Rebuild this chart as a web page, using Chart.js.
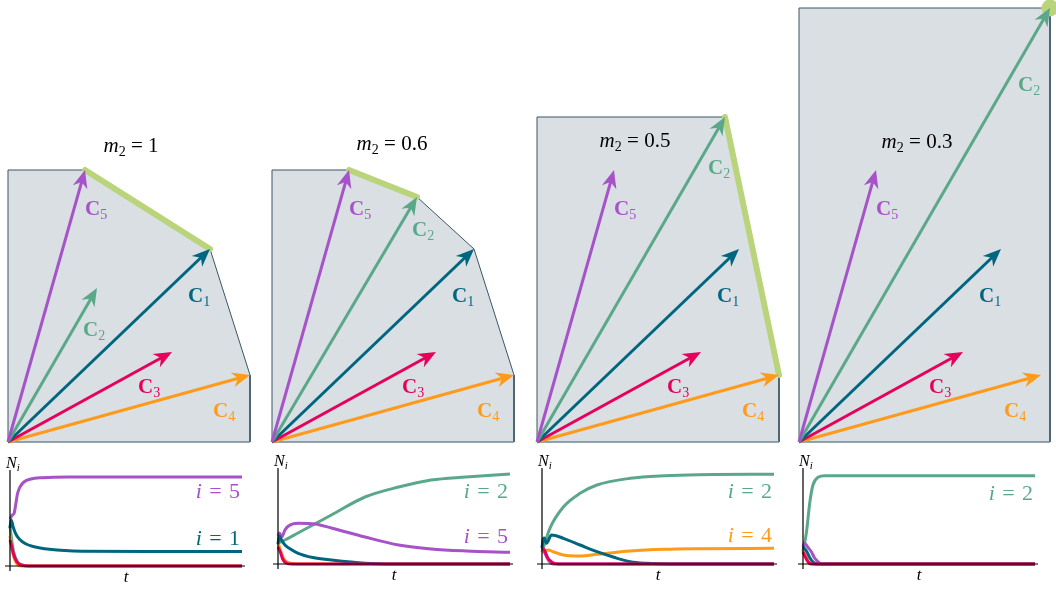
<!DOCTYPE html>
<html>
<head>
<meta charset="utf-8">
<script src="https://cdn.jsdelivr.net/npm/chart.js@4.4.0/dist/chart.umd.min.js"></script>
<style>
html, body { margin: 0; padding: 0; background: #fff; overflow: hidden; width: 1056px; height: 591px; }
canvas { position: absolute; }
</style>
</head>
<body>
<script>
// ---- vector diagram data (tips measured from the origin) ----
const m2Values = ['1', '0.6', '0.5', '0.3'];
const c1 = [202, 193];
const c3 = [164, 90];
const c4 = [242, 67];
const c5 = [77, 272];
const c2ByPanel = [[89, 154], [145, 245], [188, 325], [251, 434]];
const hullByPanel = [['5', '1', '4'], ['5', '2', '1', '4'], ['2', '4'], ['2']];
const frontierByPanel = [['5', '1'], ['5', '2'], ['2', '4'], ['2']];

// ---- population time series, [t, N] ----
const p1N1 = [[0,38],[0.5,46],[1.5,38],[2.5,32],[4,27],[6.5,22.5],[10,19.5],[17,16.7],[31,14.8],[60,14.5],[100,14.5]];
const p1N2 = [[0,40],[0.5,30],[1.5,15],[3,5],[5,1],[8,0],[100,0]];
const p1N3 = [[0,26],[0.5,22],[1.5,12],[3,4],[5,1],[8,0],[100,0]];
const p1N4 = [[0,30],[1,15],[2.5,4],[5,0],[100,0]];
const p1N5 = [[0,47],[1,51],[1.8,53],[2.5,62],[3.2,72],[4.3,79],[6,84],[9,87],[14,88.3],[25,89],[100,89]];

const p2N1 = [[0,20],[0.6,28],[1.5,24],[3,19],[5,15.5],[8.7,10.7],[15,6.5],[23,4],[37.5,0.7],[50,0],[100,0]];
const p2N2 = [[0,21],[3,24],[8.6,31],[23,49],[37.5,67],[52,77],[66,84],[81,87],[100,90]];
const p2N3 = [[0,17],[1,12],[2,5],[3.5,1],[6,0],[100,0]];
const p2N4 = [[0,22],[1,14],[2.5,5],[5,1],[8,0],[100,0]];
const p2N5 = [[0,28],[0.6,31],[1.6,27],[3,34],[4.5,38],[8.7,40.7],[16,40],[23,36],[37.5,27],[52,19],[66,15],[81,13],[100,11.7]];

const p3N1 = [[0,16],[0.4,24],[1,26],[1.9,20.7],[4.1,29],[9.2,25.7],[16.4,19],[23.7,12.3],[31,6.7],[38,2.3],[45,0.7],[55,0],[100,0]];
const p3N2 = [[0,12],[1.2,20.7],[3.4,35.7],[9.2,57],[16.4,70.7],[23.7,79],[38,85.7],[52.8,88.3],[67.3,89.3],[100,89.7]];
const p3N3 = [[0,15.7],[1,14],[2.5,6],[4.5,1.5],[7,0],[100,0]];
const p3N4 = [[0,12.3],[2.6,14],[4.8,12.3],[9.2,9],[16.4,8],[23.7,9.7],[38,13],[52.8,14.7],[67.3,15.3],[100,15.7]];
const p3N5 = [[0,18],[1,12],[3,3],[5,0],[100,0]];

const p4N1 = [[0,17],[1.5,13],[3,6],[4.5,1.5],[6,0],[100,0]];
const p4N2 = [[0,12.3],[1.5,32],[2.9,61],[4.3,79],[6.5,86.7],[9.3,88.3],[100,88.3]];
const p4N3 = [[0,12],[1,7],[2.2,2],[3.5,0],[100,0]];
const p4N4 = [[0,14],[1.2,8],[2.5,2],[4,0],[100,0]];
const p4N5 = [[0,17],[0.7,20.7],[2,17],[3.6,12.3],[5,6],[6.5,2.3],[8,0],[100,0]];

const seriesByPanel = [
  {'1': p1N1, '2': p1N2, '3': p1N3, '4': p1N4, '5': p1N5},
  {'1': p2N1, '2': p2N2, '3': p2N3, '4': p2N4, '5': p2N5},
  {'1': p3N1, '2': p3N2, '3': p3N3, '4': p3N4, '5': p3N5},
  {'1': p4N1, '2': p4N2, '3': p4N3, '4': p4N4, '5': p4N5}
];
const survivorsByPanel = [['5', '1'], ['2', '5'], ['2', '4'], ['2']];

// ---- styling / layout ----
const colors = {'1': '#00667f', '2': '#5aa889', '3': '#e6005c', '4': '#ff9a1a', '5': '#a652c9'};
const lime = '#b9d47a';
const serif = '"Liberation Serif", "DejaVu Serif", serif';
const originX = [8, 272, 537, 799];
const titlePos = [[131, 152], [392, 150], [635, 147], [917, 148]];
const labelOff = {'1': [-22, -46], '3': [-34, -34], '4': [-37, -35], '5': [0, -38]};
const c2LabelOff = [[-14, -41], [-5, -32], [-17, -50], [-32, -76]];
const axisX = [10, 278, 542, 803];
const bottomTop = [455, 453, 453, 453];
const survivorLabelN = [[68, 21], [66, 21], [66, 22], [64]];
const arrowOrder = ['5', '2', '1', '3', '4'];
const lineOrder = ['2', '4', '5', '1', '3'];
const eqSp = '\u2004=\u2004';

function addCanvas(left, top, w, h) {
  const c = document.createElement('canvas');
  c.width = w; c.height = h;
  c.style.left = left + 'px'; c.style.top = top + 'px';
  c.style.width = w + 'px'; c.style.height = h + 'px';
  document.body.appendChild(c);
  return c;
}

function mathText(ctx, parts, x, y, align) {
  let w = 0;
  parts.forEach(p => { ctx.font = p[1]; w += ctx.measureText(p[0]).width; });
  let cx = align === 'center' ? x - w / 2 : (align === 'right' ? x - w : x);
  parts.forEach(p => {
    ctx.font = p[1];
    ctx.fillText(p[0], cx, y + (p[2] || 0));
    cx += ctx.measureText(p[0]).width;
  });
}

function drawHead(ctx, x0, y0, x1, y1, color) {
  const a = Math.atan2(y1 - y0, x1 - x0);
  ctx.save();
  ctx.translate(x1, y1);
  ctx.rotate(a);
  ctx.beginPath();
  ctx.moveTo(0, 0);
  ctx.lineTo(-18, 7.5);
  ctx.lineTo(-12.5, 0);
  ctx.lineTo(-18, -7.5);
  ctx.closePath();
  ctx.fillStyle = color;
  ctx.fill();
  ctx.restore();
}

function topChart(k) {
  const vec = {'1': c1, '2': c2ByPanel[k], '3': c3, '4': c4, '5': c5};
  const hull = hullByPanel[k].map(n => vec[n]);
  const first = hull[0], last = hull[hull.length - 1];
  const poly = [{x: 0, y: 0}, {x: 0, y: first[1]}]
    .concat(hull.map(p => ({x: p[0], y: p[1]})))
    .concat([{x: last[0], y: 0}]);

  const datasets = [{
    data: poly, borderColor: '#3a5566', borderWidth: 1, backgroundColor: '#dadfe3',
    fill: 'origin', pointRadius: 0, order: 10, clip: false
  }, {
    data: [{x: 0, y: 0}, {x: last[0], y: 0}], borderColor: '#6f8796', borderWidth: 1.6,
    pointRadius: 0, fill: false, order: 9, clip: false
  }];
  const fr = frontierByPanel[k].map(n => ({x: vec[n][0], y: vec[n][1]}));
  datasets.push({
    data: fr, borderColor: lime, borderWidth: 6, borderCapStyle: 'round',
    pointRadius: fr.length === 1 ? 8.5 : 0, pointBackgroundColor: lime, pointBorderWidth: 0,
    fill: false, order: 5, clip: false
  });
  arrowOrder.forEach((n, i) => {
    const v = vec[n];
    const len = Math.hypot(v[0], v[1]);
    const s = (len - 12) / len;
    datasets.push({
      data: [{x: 0, y: 0}, {x: v[0] * s, y: v[1] * s}],
      vecName: n, tip: v,
      borderColor: colors[n], borderWidth: 3, pointRadius: 0, fill: false, order: 1 + i * 0.1, clip: false
    });
  });

  const left = originX[k] - 8;
  const canvas = addCanvas(left, 0, 266, 450);
  new Chart(canvas, {
    type: 'line',
    data: { datasets },
    options: {
      responsive: false, animation: false, devicePixelRatio: 1,
      layout: { padding: 0, autoPadding: false },
      plugins: { legend: { display: false }, tooltip: { enabled: false } },
      scales: {
        x: { type: 'linear', min: -8, max: 258, display: false },
        y: { type: 'linear', min: -8, max: 442, display: false }
      }
    },
    plugins: [{
      id: 'vectors',
      afterDatasetsDraw(chart) {
        const ctx = chart.ctx, xs = chart.scales.x, ys = chart.scales.y;
        chart.data.datasets.forEach(ds => {
          if (!ds.vecName) return;
          const tx = xs.getPixelForValue(ds.tip[0]), ty = ys.getPixelForValue(ds.tip[1]);
          drawHead(ctx, xs.getPixelForValue(0), ys.getPixelForValue(0), tx, ty, colors[ds.vecName]);
        });
        ctx.save();
        ctx.textBaseline = 'alphabetic';
        chart.data.datasets.forEach(ds => {
          if (!ds.vecName) return;
          const off = ds.vecName === '2' ? c2LabelOff[k] : labelOff[ds.vecName];
          const lx = xs.getPixelForValue(ds.tip[0] + off[0]);
          const ly = ys.getPixelForValue(ds.tip[1] + off[1]) + 7;
          ctx.fillStyle = colors[ds.vecName];
          mathText(ctx, [['C', 'bold 21px ' + serif], [ds.vecName, '14px ' + serif, 4]], lx, ly, 'left');
        });
        ctx.fillStyle = '#000';
        mathText(ctx, [['m', 'italic 21px ' + serif], ['2', '14px ' + serif, 4], [' = ' + m2Values[k], '21px ' + serif]],
          titlePos[k][0] - left, titlePos[k][1], 'center');
        ctx.restore();
      }
    }]
  });
}

function bottomChart(k) {
  const series = seriesByPanel[k];
  const datasets = lineOrder.map((n, i) => ({
    data: series[n].map(p => ({x: p[0], y: p[1]})),
    borderColor: colors[n], borderWidth: 3, pointRadius: 0, fill: false,
    cubicInterpolationMode: 'monotone', order: 10 - i, clip: false
  }));
  const left = axisX[k] - 8;
  const canvas = addCanvas(left, bottomTop[k], 250, 136);
  new Chart(canvas, {
    type: 'line',
    data: { datasets },
    options: {
      responsive: false, animation: false, devicePixelRatio: 1,
      layout: { padding: { left: 8, right: 10, top: 11, bottom: 25 }, autoPadding: false },
      plugins: { legend: { display: false }, tooltip: { enabled: false } },
      scales: {
        x: { type: 'linear', min: 0, max: 100, display: false },
        y: { type: 'linear', min: 0, max: 100, display: false }
      }
    },
    plugins: [{
      id: 'axes',
      afterDatasetsDraw(chart) {
        const ctx = chart.ctx, a = chart.chartArea, ys = chart.scales.y;
        ctx.save();
        ctx.strokeStyle = '#000';
        ctx.lineWidth = 1.2;
        ctx.beginPath();
        ctx.moveTo(a.left, a.bottom + 5); ctx.lineTo(a.left, a.top + 4);
        ctx.moveTo(a.left - 5, a.bottom); ctx.lineTo(a.right + 3, a.bottom);
        ctx.stroke();
        ctx.fillStyle = '#000';
        ctx.textBaseline = 'alphabetic';
        mathText(ctx, [['N', 'italic 16px ' + serif], ['i', 'italic 11px ' + serif, 3]], a.left - 4, a.top + 2, 'left');
        mathText(ctx, [['t', 'italic 17px ' + serif]], (a.left + a.right) / 2, a.bottom + 16, 'center');
        survivorsByPanel[k].forEach((n, j) => {
          ctx.fillStyle = colors[n];
          mathText(ctx, [['i', 'italic 22px ' + serif], [eqSp + n, '22px ' + serif]],
            a.right - 2, ys.getPixelForValue(survivorLabelN[k][j]), 'right');
        });
        ctx.restore();
      }
    }]
  });
}

for (let k = 0; k < 4; k++) {
  topChart(k);
  bottomChart(k);
}
</script>
</body>
</html>
